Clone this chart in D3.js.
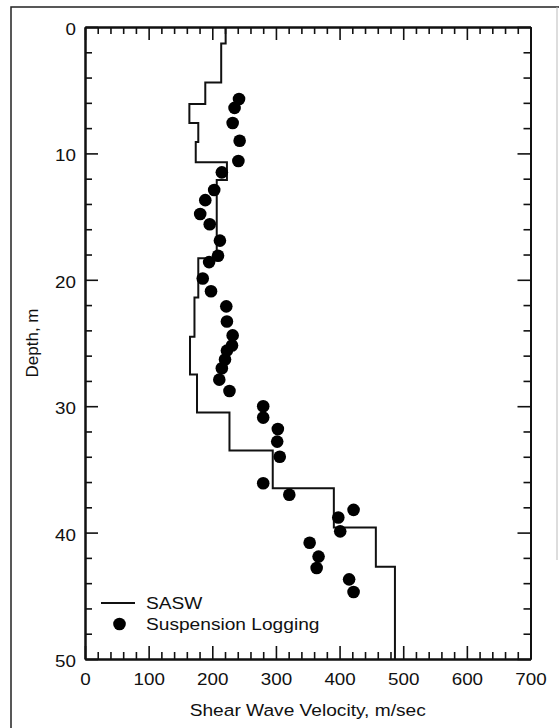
<!DOCTYPE html>
<html>
<head>
<meta charset="utf-8">
<script src="https://cdn.jsdelivr.net/npm/d3@7"></script>
<style>
  html, body { margin: 0; padding: 0; background: #fff; }
  svg { display: block; }
  text { font-family: "Liberation Sans", Arial, Helvetica, sans-serif; fill: #111; }
</style>
</head>
<body>
<svg id="chart" width="559" height="728"></svg>
<script>
// SASW layered profile: layer top depth (m) and shear wave velocity (m/s)
const saswTops = [0, 1.3, 4.4, 6.1, 7.6, 9.1, 10.7, 12.1, 18.3, 21.4, 24.5, 27.5, 30.5, 33.5, 36.5, 39.6, 42.7];
const saswVel  = [221, 214, 189, 164, 178, 174, 223, 207, 178, 172, 165, 176, 227, 295, 391, 457, 487];
const profileBottom = 50;

// Suspension logging measurements
const logDepth = [5.7, 6.4, 7.6, 9.0, 10.6, 11.5, 12.9, 13.7, 14.8, 15.6, 16.9, 18.1, 18.6, 19.9, 20.9,
                  22.1, 23.3, 24.4, 25.2, 25.6, 26.3, 27.0, 27.9, 28.8, 30.0, 30.9, 31.8, 32.8, 34.0,
                  36.1, 37.0, 38.2, 38.8, 39.9, 40.8, 41.9, 42.8, 43.7, 44.7];
const logVel   = [242, 235, 232, 243, 241, 215, 203, 189, 181, 196, 212, 209, 195, 185, 198,
                  222, 223, 232, 231, 223, 220, 215, 211, 227, 280, 280, 303, 302, 306,
                  280, 321, 422, 398, 401, 353, 367, 364, 415, 422];

// Axis ticks
const xMajor = [0, 100, 200, 300, 400, 500, 600, 700];
const xMinor = d3.range(0, 701, 20).filter(v => v % 100 !== 0);
const yMajor = [0, 10, 20, 30, 40, 50];
const yMinor = d3.range(0, 51, 2).filter(v => v % 10 !== 0);

const seriesNames = ["SASW", "Suspension Logging"];
const xTitle = "Shear Wave Velocity, m/sec";
const yTitle = "Depth, m";

(function draw() {
  const svg = d3.select("#chart");
  const W = 559, H = 728;
  const pLeft = 85, pRight = 530.5, pTop = 27, pBottom = 659;
  const stretch = 1.14;   // horizontal glyph widening of the lettering
  const fs = 16.5;

  const x = d3.scaleLinear().domain([0, 700]).range([pLeft, pRight]);
  const y = d3.scaleLinear().domain([0, 50]).range([pTop, pBottom]);

  // outer figure frame
  svg.append("path")
    .attr("d", `M11,${H} L11,7 L${W},7`)
    .attr("fill", "none").attr("stroke", "#222").attr("stroke-width", 1.5);
  svg.append("line")
    .attr("x1", 557).attr("x2", 557).attr("y1", 7).attr("y2", 560)
    .attr("stroke", "#bbb").attr("stroke-width", 1);

  function styleAxis(g) {
    g.select(".domain").attr("stroke", "#111").attr("stroke-width", 2);
    g.selectAll(".tick line").attr("stroke", "#111").attr("stroke-width", 1.6);
  }

  // minor ticks on all four sides
  const minorLen = 7, majorLen = 13;
  svg.append("g").attr("transform", `translate(0,${pBottom})`)
    .call(d3.axisBottom(x).tickValues(xMinor).tickSize(-minorLen).tickSizeOuter(0).tickFormat(""))
    .call(styleAxis);
  svg.append("g").attr("transform", `translate(0,${pTop})`)
    .call(d3.axisTop(x).tickValues(xMinor).tickSize(-minorLen).tickSizeOuter(0).tickFormat(""))
    .call(styleAxis);
  svg.append("g").attr("transform", `translate(${pLeft},0)`)
    .call(d3.axisLeft(y).tickValues(yMinor).tickSize(-minorLen).tickSizeOuter(0).tickFormat(""))
    .call(styleAxis);
  svg.append("g").attr("transform", `translate(${pRight},0)`)
    .call(d3.axisRight(y).tickValues(yMinor).tickSize(-minorLen).tickSizeOuter(0).tickFormat(""))
    .call(styleAxis);

  // major ticks with labels
  const gxb = svg.append("g").attr("transform", `translate(0,${pBottom})`)
    .call(d3.axisBottom(x).tickValues(xMajor).tickSize(-majorLen).tickSizeOuter(0).tickPadding(14.5).tickFormat(d3.format("d")))
    .call(styleAxis);
  gxb.selectAll("text").attr("font-size", fs).attr("font-family", null)
    .attr("transform", `scale(${stretch},1)`).attr("fill", "#111");

  svg.append("g").attr("transform", `translate(0,${pTop})`)
    .call(d3.axisTop(x).tickValues(xMajor).tickSize(-majorLen).tickSizeOuter(0).tickFormat(""))
    .call(styleAxis);

  const gyl = svg.append("g").attr("transform", `translate(${pLeft},0)`)
    .call(d3.axisLeft(y).tickValues(yMajor).tickSize(-majorLen).tickSizeOuter(0).tickPadding(8).tickFormat(d3.format("d")))
    .call(styleAxis);
  gyl.selectAll("text").attr("font-size", fs).attr("font-family", null)
    .attr("dy", "0.45em")
    .attr("transform", `scale(${stretch},1)`).attr("fill", "#111");

  svg.append("g").attr("transform", `translate(${pRight},0)`)
    .call(d3.axisRight(y).tickValues(yMajor).tickSize(-majorLen).tickSizeOuter(0).tickFormat(""))
    .call(styleAxis);

  // axis titles
  svg.append("text")
    .attr("transform", `translate(${(pLeft + pRight) / 2},716) scale(${stretch},1)`)
    .attr("text-anchor", "middle").attr("font-size", fs + 0.3).text(xTitle);
  svg.append("text")
    .attr("transform", `translate(37.5,${(pTop + pBottom) / 2}) rotate(-90)`)
    .attr("text-anchor", "middle").attr("font-size", 17).text(yTitle);

  // SASW step profile
  const profile = saswTops.map((d, i) => [saswVel[i], d]);
  profile.push([saswVel[saswVel.length - 1], profileBottom]);
  const stepLine = d3.line().x(d => x(d[0])).y(d => y(d[1])).curve(d3.curveStepBefore);
  svg.append("path")
    .attr("d", stepLine(profile))
    .attr("fill", "none").attr("stroke", "#111").attr("stroke-width", 2);

  // suspension logging points
  svg.append("g").selectAll("circle")
    .data(logDepth.map((d, i) => ({ d, v: logVel[i] })))
    .join("circle")
    .attr("cx", p => x(p.v)).attr("cy", p => y(p.d)).attr("r", 6.3)
    .attr("fill", "#000");

  // legend
  const lg = svg.append("g");
  lg.append("line").attr("x1", 101).attr("x2", 135).attr("y1", 603).attr("y2", 603)
    .attr("stroke", "#111").attr("stroke-width", 2);
  lg.append("text").attr("transform", `translate(146,609) scale(${stretch},1)`)
    .attr("font-size", fs + 0.3).text(seriesNames[0]);
  lg.append("circle").attr("cx", 119.5).attr("cy", 624).attr("r", 6.3).attr("fill", "#000");
  lg.append("text").attr("transform", `translate(146,630) scale(${stretch},1)`)
    .attr("font-size", fs + 0.3).text(seriesNames[1]);
})();
</script>
</body>
</html>
